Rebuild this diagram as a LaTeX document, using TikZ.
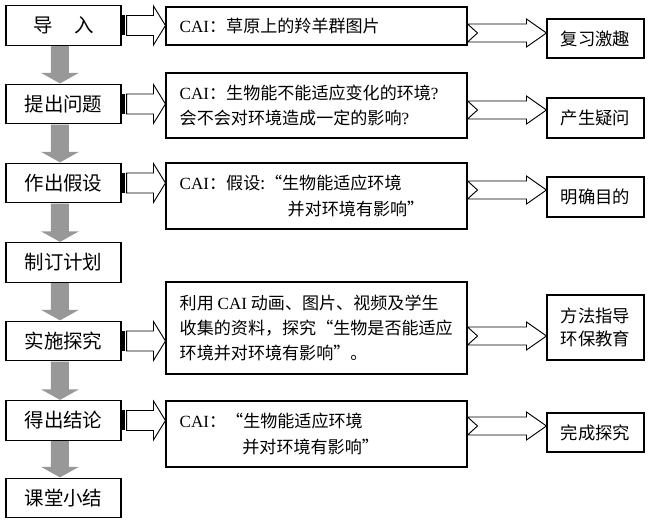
\documentclass[tikz,border=0pt]{standalone}
\usepackage{fontspec}
\setmainfont{Noto Sans CJK SC}
\newfontfamily\latf{Liberation Serif}
\usetikzlibrary{calc}
\definecolor{arrgray}{RGB}{152,152,152}
\tikzset{
  box/.style={draw=black, line width=0.8pt, inner sep=0pt},
  lbox/.style={box, minimum width=86.25pt, minimum height=29.5pt, font=\fontsize{14.6}{17}\selectfont},
  mbox/.style={box, minimum width=225.75pt},
  rbox/.style={box, minimum width=72.75pt, align=center, font=\fontsize{13}{17}\selectfont},
  mtext/.style={anchor=west, inner sep=0pt, align=left, font=\fontsize{12.8}{19}\selectfont},
  outl/.style={draw=black, line width=0.7pt, fill=white},
}
% gray down arrow between two left boxes
\newcommand\grayarr[2]{%
  \fill[arrgray] let \p1=(#1.south), \p2=(#2.north) in
    (\x1-9.4pt,\y1-0.4pt) -- (\x1+4.1pt,\y1-0.4pt) -- (\x1+4.1pt,\y2+8.25pt)
    -- (\x1+11.6pt,\y2+8.25pt) -- (\x1-2.6pt,\y2+0.3pt) -- (\x1-16.9pt,\y2+8.25pt)
    -- (\x1-9.4pt,\y2+8.25pt) -- cycle;}
% striped hollow arrow from left box to middle box
\newcommand\striparr[2]{%
  \fill[black] let \p1=(#1.east) in (\x1+0.4pt,\y1-7.5pt) rectangle (\x1+2.5pt,\y1+7.5pt);
  \draw[outl] let \p1=(#1.east), \p2=(#2.west) in
    (\x1+3.8pt,\y1+7.5pt) -- (\x2-9pt,\y1+7.5pt) -- (\x2-9pt,\y1+14.6pt) -- (\x2,\y1)
    -- (\x2-9pt,\y1-14.6pt) -- (\x2-9pt,\y1-7.5pt) -- (\x1+3.8pt,\y1-7.5pt) -- cycle;}
% notched hollow arrow from middle box to right box, centred at y (px)
\newcommand\notcharr[3]{%
  \draw[outl] let \p1=(#1.east), \p2=(#2.west), \p3=(0,#3) in
    (\x1,\y3+6.75pt) -- (\x2-15pt,\y3+6.75pt) -- (\x2-15pt,\y3+10.5pt) -- (\x2,\y3)
    -- (\x2-15pt,\y3-10.5pt) -- (\x2-15pt,\y3-6.75pt) -- (\x1,\y3-6.75pt)
    -- (\x1+7.5pt,\y3) -- cycle;}
\begin{document}
\begin{tikzpicture}[x=0.75pt,y=-0.75pt]
\useasboundingbox (0,0) rectangle (650,523);
\fill[white] (0,0) rectangle (650,523);
% left column
\node[lbox] (l1) at (63.5,25.5) {导\hspace{1.1em}入};
\node[lbox] (l2) at (63.5,104) {提出问题};
\node[lbox] (l3) at (63.5,183) {作出假设};
\node[lbox] (l4) at (63.5,262.5) {制订计划};
\node[lbox] (l5) at (63.5,341) {实施探究};
\node[lbox] (l6) at (63.5,420.5) {得出结论};
\node[lbox] (l7) at (63.5,498) {课堂小结};
% middle column
\node[mbox, minimum height=28.5pt] (m1) at (316.5,26) {};
\node[mbox, minimum height=48.75pt] (m2) at (316.5,105.5) {};
\node[mbox, minimum height=49.5pt] (m3) at (316.5,196) {};
\node[mbox, minimum height=69pt] (m5) at (316.5,328) {};
\node[mbox, minimum height=49.5pt] (m6) at (316.5,434) {};
\node[mtext] (t1) at ([xshift=10.5pt]m1.west) {{\latf CAI}：草原上的羚羊群图片};
\node[mtext] (t2) at ([xshift=10.5pt]m2.west) {{\latf CAI}：生物能不能适应变化的环境{\latf ?}\\会不会对环境造成一定的影响{\latf ?}};
\node[mtext] (t3) at ([xshift=10.5pt]m3.west) {{\latf CAI}：假设:“生物能适应环境\\\hspace*{81pt}并对环境有影响”};
\node[mtext] (t5) at ([xshift=10.5pt]m5.west) {利用 {\latf CAI} 动画、图片、视频及学生\\收集的资料，探究“生物是否能适应\\环境并对环境有影响”。};
\node[mtext] (t6) at ([xshift=10.5pt]m6.west) {{\latf CAI}：“生物能适应环境\\\hspace*{47pt}并对环境有影响”};
% right column
\node[rbox, minimum height=29.25pt] (r1) at (595.5,38.5) {复习激趣};
\node[rbox, minimum height=30pt] (r2) at (595.5,118) {产生疑问};
\node[rbox, minimum height=30pt] (r3) at (595.5,197) {明确目的};
\node[rbox, minimum height=48.75pt] (r5) at (595.5,327.5) {方法指导\\环保教育};
\node[rbox, minimum height=29.25pt] (r6) at (595.5,432.5) {完成探究};
% gray flow arrows
\grayarr{l1}{l2}
\grayarr{l2}{l3}
\grayarr{l3}{l4}
\grayarr{l4}{l5}
\grayarr{l5}{l6}
\grayarr{l6}{l7}
% striped arrows
\striparr{l1}{m1}
\striparr{l2}{m2}
\striparr{l3}{m3}
\striparr{l5}{m5}
\striparr{l6}{m6}
% notched arrows
\notcharr{m1}{r1}{33}
\notcharr{m2}{r2}{110}
\notcharr{m3}{r3}{190}
\notcharr{m5}{r5}{336}
\notcharr{m6}{r6}{426}
\end{tikzpicture}
\end{document}
